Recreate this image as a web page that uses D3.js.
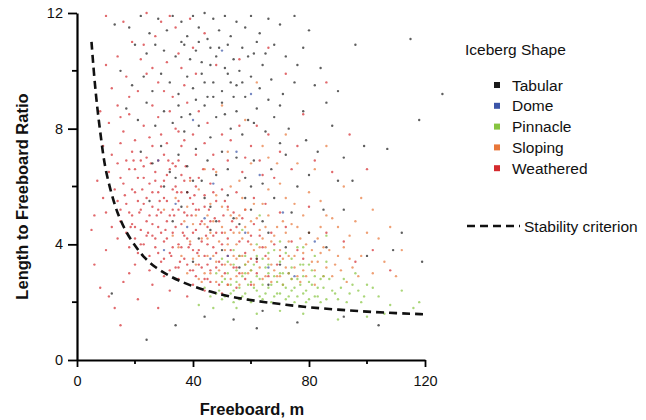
<!DOCTYPE html>
<html>
<head>
<meta charset="utf-8">
<script src="https://cdn.jsdelivr.net/npm/d3@7"></script>
<style>
  html, body { margin: 0; padding: 0; background: #fff; }
  svg { display: block; font-family: "Liberation Sans", Arial, sans-serif; }
</style>
</head>
<body>
<div id="chart"></div>
<script>
(function () {

    // --- data: [freeboard (m), length/freeboard] ---
    const tabular = [
        [13,11.6],[18,11.5],[22,11.9],[25,11.3],[28,11.8],[31,11.4],[33,11.9],[36,11.7],[38,11.2],[40,11.9],[42,11.5],[44,12],[45,11.1],[47,11.8],[49,11.4],[51,11.9],[53,11.2],[55,11.7],[58,11.5],[60,11.9],[63,11.3],[66,11.8],[70,11.6],[75,11.9],[80,11.4],[115,11.1],
        [20,10.9],[24,10.6],[27,10.9],[30,10.7],[34,10.5],[37,10.9],[41,10.7],[43,10.3],[46,10.8],[48,10.5],[52,10.9],[54,10.4],[57,10.8],[61,10.6],[64,10.2],[68,10.9],[72,10.5],[78,10.8],[84,10.1],[96,10.9],
        [15,10],[19,9.5],[23,9.8],[26,9.3],[29,9.9],[32,9.6],[35,9.2],[38,9.8],[40,9.4],[43,9.9],[45,9.1],[47,9.6],[50,9.3],[52,9.9],[55,9.5],[58,9.1],[60,9.8],[63,9.4],[67,9.7],[71,9.2],[75,9.6],[82,9.5],[90,9.3],[118,8.3],[126,9.2],
        [17,8.7],[21,8.3],[24,8.9],[27,8.1],[30,8.6],[33,8.2],[35,8.8],[37,7.9],[39,8.5],[42,8.1],[44,8.8],[46,7.7],[48,8.4],[50,8.9],[53,8],[55,8.6],[57,7.8],[59,8.3],[62,8.7],[65,7.9],[68,8.4],[73,8],[78,8.6],[88,8.1],
        [22,7.2],[26,6.8],[29,7.4],[32,6.5],[35,7.1],[38,6.7],[41,7.3],[43,6.2],[45,6.9],[48,6.4],[50,7.2],[52,6.6],[55,7],[58,6.3],[61,6.9],[64,6.1],[67,6.6],[72,7.1],[80,6.4],[95,6.2],
        [79,7.6],[99,7.4],[107,7.3],[90,6.2],[85,5.2],[109,3.8],
        [36,11.0],[39,10.4],[42,11.0],[44,9.6],[46,10.2],[49,10.8],[51,10.1],[53,9.6],[56,10.0],[59,10.5],[62,11.0],[65,10.6],[36,8.4],[41,9.0],[47,9.1],[51,8.5],[54,9.1],[57,9.6],[61,8.2],[66,9.0],[70,8.8],[76,10.2],[86,8.9],[92,7.0],[70,7.5],[83,7.2],
        [25,5.5],[33,4.8],[38,5.8],[42,4.2],[46,5.3],[50,3.8],[54,4.9],[58,5.6],[62,3.5],[66,4.4],[70,3.3],[74,5.1],[80,4.4],[86,3.9],[92,5.2],[100,3.6],[112,4.4],[119,3.4],
        [30,6.0],[36,5.3],[40,6.2],[44,5.6],[48,4.8],[52,5.7],[56,4.7],[60,5.2],[64,4.8],[68,5.6],[40,3.4],[56,3.2],[66,2.6],[72,3.9],[46,4.5],[34,6.3],[60,6.0],[76,6.0],
        [24,0.7],[12,2.3],[34,1.2],[44,1.5],[54,1.4],[62,1.1],[76,1.3],[92,1.5],[104,1.2],[64,1.7]
    ];

    const dome = [
        [28,6.9],[34,5.4],[40,8.3],[44,4.9],[47,6.1],[52,3.6],[55,7.2],[58,4.4],[63,6.4],[66,3.2],[71,5.1],[75,2.9],[46,3.5],[38,4.6],[60,9.2],[50,10.7],[82,4.1],[30,3.8]
    ];

    const pinnacle = [
        [44,2.5],[46,2.2],[48,3.0],[49,2.4],[50,2.1],[51,2.8],[52,3.4],[53,2.3],[54,2.0],[55,3.1],[56,2.5],[57,2.2],[58,3.0],[59,2.6],[60,2.0],[61,3.3],[62,2.4],[63,2.8],[64,2.1],[65,3.2],[66,2.5],[67,2.0],[68,2.9],[69,2.3],[70,3.4],[71,2.6],[72,2.1],[73,3.0],[74,2.4],[75,2.0],[76,2.8],[77,3.3],[78,2.3],[79,2.0],[80,2.7],[81,3.1],[82,2.2],[83,2.5],[84,2.0],[85,2.9],[86,3.4],[88,2.4],[90,2.1],[92,2.8],[94,2.3],[96,3.0],[98,2.0],[100,2.6],[104,2.2],[108,1.9],[112,2.4],[116,1.8],[118,2.0],
        [54,3.8],[58,3.6],[62,4.0],[66,3.7],[70,4.1],[74,3.5],[78,3.9],[82,3.6],[86,4.3],[50,3.5],[55,1.8],[62,1.6],[70,1.7],[78,1.6],[90,1.4],[100,1.5],[106,1.6],[47,1.8],[42,1.9],[60,2.7],[64,3.5],[68,3.8],[72,3.7],[76,3.9],[80,3.3],[84,2.8],[57,4.5],[63,5.0],
        [48,2.3],[50,2.7],[51,2.2],[52,3.0],[53,2.6],[54,2.4],[55,2.7],[56,2.1],[57,2.9],[58,2.3],[59,2.1],[60,3.1],[61,2.5],[62,2.9],[63,2.2],[64,2.6],[65,2.3],[66,3.0],[67,2.6],[68,2.2],[69,2.7],[70,2.3],[71,3.0],[72,2.5],[73,2.2],[74,2.8],[75,2.5],[76,2.2],[77,2.6],[78,2.9],[79,2.4],[80,2.1],[81,2.6],[82,2.9],[83,2.2],[85,2.5],[86,2.1],[87,2.8],[89,2.3],[91,2.5],[93,2.0],[95,2.6],[97,2.4],[99,2.2],[102,2.5],[54,3.3],[58,3.3],[62,3.6],[66,3.3],[70,3.0],[74,3.2],[78,3.3],[56,3.6]
    ];

    const sloping = [
        [30,5.2],[33,4.3],[36,3.6],[38,5.3],[40,4.7],[41,3.3],[42,5.9],[43,4.2],[44,3.0],[45,5.0],[46,4.4],[47,3.6],[48,5.7],[49,3.1],[50,4.6],[51,3.8],[52,5.2],[53,3.3],[54,4.4],[55,2.9],[56,5.0],[57,3.6],[58,4.6],[59,3.0],[60,4.0],[61,5.4],[62,3.5],[63,4.5],[64,2.8],[65,3.9],[66,5.0],[67,3.3],[68,4.3],[69,2.9],[70,3.8],[71,4.8],[72,3.2],[73,4.1],[74,2.8],[75,3.6],[76,4.6],[78,3.1],[79,4.0],[81,3.4],[83,4.2],[85,2.9],[87,3.8],[89,3.3],[92,3.9],[95,3.2],[98,3.6],[102,3.0],[106,3.4],[110,2.9],[112,3.8],
        [48,6.5],[52,7.2],[56,6.2],[60,6.8],[64,7.4],[58,8.3],[50,8.8],[62,9.6],[70,6.1],[75,5.4],[80,5.8],[86,5.0],[90,4.6],[96,4.8],[100,4.4],[104,4.2],[53,6.0],[44,6.6],[39,6.2],[66,5.9],[72,5.6],[78,5.0],[84,4.6],[88,4.9],[57,5.6],[46,5.4],[55,4.0],[59,3.4],[63,3.9],[67,2.7],[71,2.6],[82,2.6],[77,2.7],[84,3.7],[93,2.7],[37,4.8],[34,5.6],[35,3.9],[48,2.7],[52,2.6],[56,2.6],[45,3.6],[42,2.8],
        [38,3.0],[39,4.1],[40,3.5],[41,5.0],[42,3.6],[43,2.7],[44,4.7],[45,4.2],[46,3.0],[47,4.8],[48,3.4],[49,4.1],[50,2.9],[50,5.3],[51,3.3],[51,4.4],[52,4.0],[53,2.8],[53,5.0],[54,3.6],[55,4.9],[55,3.5],[56,4.4],[57,3.0],[57,4.2],[58,3.3],[58,5.2],[59,4.4],[60,3.1],[60,4.8],[61,3.8],[61,2.6],[62,4.9],[63,3.2],[64,4.2],[64,5.4],[65,2.9],[65,4.6],[66,3.5],[67,4.1],[68,3.1],[69,4.6],[70,2.9],[71,3.5],[72,4.4],[73,3.6],[74,4.7],[75,3.2],[76,2.9],[77,4.2],[78,3.7],[79,2.9],[80,4.4],[81,3.8],[82,3.1],[83,3.4],[85,3.9],[86,3.2],[88,2.9],[90,3.6],[91,3.1],[94,3.5],[97,2.9],
        [66,7.0],[72,7.8],[76,6.8],[82,6.6],[86,7.4],[92,6.0],[98,5.6],[102,5.2],[108,4.6],[84,5.5],[94,4.3],[69,6.8]
    ];

    const weathered = [
        [10,11.9],[16,11.7],[24,12],[29,11.7],[34,11.5],[39,11.8],[27,11.2],[19,11],[14,10.5],[22,10.4],[26,10.1],[31,10.3],[36,10.1],[10,10.2],[17,9.8],[21,9.3],[28,9.6],[33,9.1],[37,9.5],[41,9.9],[12,9.4],[48,10.2],[56,10.4],[44,11.3],
        [8,8.6],[11,8.2],[14,8.8],[16,7.9],[18,8.5],[20,7.6],[23,8.1],[25,7.7],[28,8.4],[31,7.5],[34,8],[36,7.4],[40,7.8],[9,7.4],[12,7.1],[15,7.5],[19,7.2],[22,6.9],[26,7.4],[30,7.1],[33,6.8],[37,7.6],[44,7.5],[47,7.1],[53,7.6],[60,7.4],[66,7.8],
        [7,6.2],[9,5.6],[11,6.5],[13,5.9],[14,6.8],[16,6.1],[17,5.4],[18,6.6],[20,5.8],[21,6.3],[22,5.2],[23,6.7],[24,5.6],[25,6.1],[26,5.3],[27,6.5],[28,5.8],[29,5.1],[30,6.2],[31,5.5],[32,6.6],[33,5.2],[34,6],[35,5.5],[36,6.4],[37,5.1],[38,5.8],[39,6.3],[40,5.4],[41,6],[42,5.2],[44,5.7],[46,6.1],[48,5.5],[50,5.9],[52,5.3],[55,5.8],[58,5.2],[61,5.6],[65,5.4],[6,5.0],[10,5.1],[15,5.2],[19,5.0],[28,6.9],[35,6.9],
        [12,4.6],[14,4.2],[15,4.8],[17,4.4],[18,3.9],[19,4.7],[20,4.2],[21,3.7],[22,4.5],[23,4.0],[24,4.8],[25,3.6],[26,4.3],[27,3.9],[28,4.6],[29,3.4],[30,4.1],[31,4.8],[32,3.7],[33,4.4],[34,3.2],[35,4],[36,4.7],[37,3.5],[38,4.2],[39,3.1],[40,3.8],[41,4.5],[42,3.3],[43,4.1],[44,3.6],[45,4.6],[46,3.1],[47,3.9],[48,4.4],[49,3.4],[50,4.0],[52,3.6],[53,4.5],[55,3.2],[56,4.1],[58,3.7],[60,4.3],[62,3.4],[64,3.9],[67,4.4],[70,3.6],[74,4.1],[78,3.5],[20,3.3],[25,3.1],[30,2.9],[35,2.8],[40,2.6],
        [5,4.5],[6,3.3],[8,2.5],[10,3.8],[11,2.2],[13,1.8],[16,2.7],[21,2.1],[18,3.0],[26,2.6],[32,2.4],[38,2.2],[44,2.4],[50,2.3],[28,1.8],[15,1.2],[45,2.8],[55,2.5],[60,2.6],
        [16.5,5.7],[19.5,6.9],[22.5,5.9],[25.5,6.8],[28.5,5.5],[31.5,6.9],[34.5,5.8],[37.5,6.7],[40.5,5.7],[43.5,6.6],[18.5,4.6],[21.5,5.1],[24.5,4.4],[27.5,5],[30.5,4.5],[33.5,5.0],[36.5,4.4],[39.5,5.0],[42.5,4.7],[45.5,5.2],[32.5,3.6],[35.5,3.4],[38.5,3.9],[41.5,3.7],[44.5,4.3],[47.5,4.9],[50.5,5],[53.5,4.8],
        [14,5.5],[15,6.3],[17,6.9],[18,5.1],[19,5.9],[20,6.6],[20,4.6],[21,5.5],[22,4.0],[23,5.4],[23,6.3],[24,4.3],[24,7.0],[25,5.0],[26,4.7],[26,5.8],[27,4.2],[27,6.2],[28,3.7],[28,5.2],[29,4.4],[29,6.0],[30,3.5],[30,5.6],[31,4.2],[31,6.4],[32,3.1],[32,5.0],[33,3.9],[33,5.9],[34,4.6],[34,6.7],[35,3.2],[35,5.2],[36,3.9],[36,5.8],[37,4.3],[37,6.2],[38,3.3],[38,5.0],[39,4.0],[39,5.6],[40,3.1],[40,4.4],[41,2.9],[41,5.2],[42,3.8],[42,6.3],[43,3.2],[43,4.8],[44,2.8],[44,5.3],[45,3.3],[45,4.0],[46,4.8],[46,2.7],[47,4.3],[47,5.8],[48,3.2],[48,3.7],[49,4.8],[49,2.6],[50,3.3],[50,4.4],[51,3.0],[51,5.5],[52,4.2],[52,2.6],[53,3.8],[54,3.2],[54,5.1],[55,4.6],[56,3.0],[56,3.6],[57,4.9],[58,2.8],[59,4.1],[60,3.5],[61,4.7],[62,3.0],[63,4.3],[65,3.6],[66,2.9],[68,4.0],[69,3.3],[72,4.6],[73,3.0],[76,3.8],
        [18,9.1],[24,9.9],[30,9.3],[35,10.6],[40,10.8],[23,10.9],[32,11.9],[15,8.4],[26,8.8],[32,8.6],[38,8.9],[42,8.6],[29,7.8],[35,7.9],[41,7.1],[45,8.2],[50,7.8],[56,8.1],[62,8.1],[47,6.6],[52,6.9],[57,6.5],[63,6.9],[68,6.3],[70,5.1],[74,6.6],[80,5.3],[86,4.4],[92,4.1],[96,3.4],[102,3.8],[108,3.1],
        [58,7.0],[64,6.4],[70,7.2],[76,7.4],[82,6.9],[88,6.5],[94,7.8],[100,6.6],[78,8.5],[86,9.6],[72,9.9],[66,10.8]
    ];

    // dashed stability criterion
    const stability = [
        [5,11.0],[6,9.7],[7,8.7],[8,7.9],[9,7.1],[10,6.5],[12,5.7],[14,5.05],[17,4.4],[20,3.95],[23,3.55],[27,3.2],[31,2.95],[35,2.75],[40,2.54],[46,2.36],[52,2.21],[58,2.1],[64,2.01],[72,1.91],[80,1.82],[90,1.74],[100,1.67],[110,1.62],[120,1.58]
    ];

    const series = [
        { name: "Tabular",   color: "#1a1a1a", points: tabular },
        { name: "Dome",      color: "#3b55a8", points: dome },
        { name: "Pinnacle",  color: "#86c440", points: pinnacle },
        { name: "Sloping",   color: "#e8773a", points: sloping },
        { name: "Weathered", color: "#d42a2e", points: weathered }
    ];

    const xTicks = [0, 40, 80, 120];
    const xMinor = [20, 60, 100];
    const yTicks = [0, 4, 8, 12];
    const yMinor = [2, 6, 10];

    // 1. Setup
    const W = 646, H = 420;
    const margin = { top: 13, right: 221, bottom: 60, left: 77 };
    const width = W - margin.left - margin.right;
    const height = H - margin.top - margin.bottom;

    const svgRoot = d3.select("#chart").append("svg")
        .attr("width", W).attr("height", H);
    const svg = svgRoot.append("g")
        .attr("transform", `translate(${margin.left},${margin.top})`);

    const x = d3.scaleLinear().domain([0, 120]).range([0, width]);
    const y = d3.scaleLinear().domain([0, 12]).range([height, 0]);

    // Points (drawn in reverse so weathered sits underneath)
    series.slice().reverse().forEach(s => {
        svg.append("g")
            .selectAll("circle")
            .data(s.points)
            .join("circle")
            .attr("cx", d => x(d[0]))
            .attr("cy", d => y(d[1]))
            .attr("r", 1.2)
            .attr("fill", s.color)
            .attr("fill-opacity", 0.7);
    });

    // Stability criterion
    svg.append("path")
        .datum(stability)
        .attr("fill", "none")
        .attr("stroke", "#111")
        .attr("stroke-width", 2.6)
        .attr("stroke-dasharray", "8,5")
        .attr("d", d3.line().curve(d3.curveBasis).x(d => x(d[0])).y(d => y(d[1])));

    // Axes
    const xAxis = svg.append("g")
        .attr("transform", `translate(0,${height})`)
        .call(d3.axisBottom(x).tickValues(xTicks).tickSize(7).tickPadding(9).tickSizeOuter(0));
    xAxis.append("g").selectAll("line").data(xMinor).join("line")
        .attr("x1", d => x(d)).attr("x2", d => x(d))
        .attr("y1", 0).attr("y2", 4)
        .attr("stroke", "#000");

    const yAxis = svg.append("g")
        .call(d3.axisLeft(y).tickValues(yTicks).tickSize(9).tickPadding(5).tickSizeOuter(0));
    yAxis.append("g").selectAll("line").data(yMinor).join("line")
        .attr("x1", 0).attr("x2", -5)
        .attr("y1", d => y(d)).attr("y2", d => y(d))
        .attr("stroke", "#000");

    svg.selectAll(".domain").attr("stroke-width", 2.2);
    svg.selectAll("line").attr("stroke-width", 1.8);
    svg.selectAll(".tick text")
        .attr("font-size", 14.5)
        .attr("font-family", "Liberation Sans, Arial, sans-serif")
        .attr("fill", "#111");

    // Axis titles
    svg.append("text")
        .attr("x", width / 2 + 1)
        .attr("y", height + 55)
        .attr("text-anchor", "middle")
        .attr("font-size", 16.5)
        .attr("font-weight", "bold")
        .attr("fill", "#111")
        .text("Freeboard, m");

    svg.append("text")
        .attr("transform", "rotate(-90)")
        .attr("x", -(height / 2) - 10)
        .attr("y", -49)
        .attr("text-anchor", "middle")
        .attr("font-size", 16.5)
        .attr("font-weight", "bold")
        .attr("fill", "#111")
        .text("Length to Freeboard Ratio");

    // --- Legend ---
    const legend = svgRoot.append("g");
    legend.append("text")
        .attr("x", 465).attr("y", 55)
        .attr("font-size", 15.5)
        .attr("fill", "#111")
        .text("Iceberg Shape");

    const item = legend.selectAll("g.item")
        .data(series)
        .join("g")
        .attr("class", "item")
        .attr("transform", (d, i) => `translate(0,${85 + i * 20.8})`);
    item.append("rect")
        .attr("x", 494).attr("y", -3)
        .attr("width", 6).attr("height", 6)
        .attr("fill", d => d.color);
    item.append("text")
        .attr("x", 512).attr("y", 5.5)
        .attr("font-size", 15.5)
        .attr("fill", "#111")
        .text(d => d.name);

    legend.append("line")
        .attr("x1", 467).attr("x2", 520)
        .attr("y1", 226).attr("y2", 226)
        .attr("stroke", "#111")
        .attr("stroke-width", 2.6)
        .attr("stroke-dasharray", "8,5");
    legend.append("text")
        .attr("x", 524).attr("y", 231.5)
        .attr("font-size", 15.5)
        .attr("fill", "#111")
        .text("Stability criterion");
})();
</script>
</body>
</html>
